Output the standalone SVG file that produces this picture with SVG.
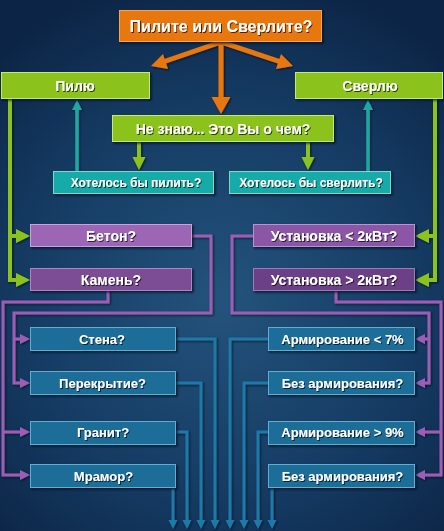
<svg xmlns="http://www.w3.org/2000/svg" width="444" height="531" viewBox="0 0 444 531">
<defs>
<radialGradient id="bg" cx="222" cy="300" r="330" gradientUnits="userSpaceOnUse">
<stop offset="0" stop-color="#23537c"/>
<stop offset="0.6" stop-color="#153b63"/>
<stop offset="1" stop-color="#0c2546"/>
</radialGradient>
<filter id="bs" x="-10%" y="-30%" width="120%" height="170%">
<feDropShadow dx="1.5" dy="1.5" stdDeviation="1" flood-color="#050f1f" flood-opacity="0.85"/>
</filter>
<filter id="ts" x="-5%" y="-30%" width="110%" height="160%">
<feDropShadow dx="1" dy="1" stdDeviation="0.6" flood-color="#000" flood-opacity="0.7"/>
</filter>
<filter id="ls" filterUnits="userSpaceOnUse" x="0" y="0" width="444" height="531">
<feDropShadow dx="1" dy="1" stdDeviation="0.8" flood-color="#040c1a" flood-opacity="0.8"/>
</filter>
</defs>
<style>
text{font-family:"Liberation Sans",Arial,sans-serif;font-weight:bold;fill:#fff;text-anchor:middle;filter:url(#ts)}
.t16{font-size:16px}.t14{font-size:14px}.t13{font-size:13px}.t12{font-size:12px}
rect{filter:url(#bs);stroke-width:1}
.or{fill:#e8770d;stroke:#f5a552}
.gr{fill:#8cc21b;stroke:#c6ea74}
.te{fill:#19aba9;stroke:#7ad9d6}
.p1{fill:#9c66b5;stroke:#c9a2dc}
.p2{fill:#7c4e95;stroke:#ad86c4}
.p3{fill:#8a57a5;stroke:#b993cf}
.p4{fill:#6c4186;stroke:#9e7ab6}
.bl{fill:#1a6e99;stroke:#62aed3}
.c{filter:url(#ls)}
.c path{fill:none;stroke-linejoin:miter;stroke-linecap:butt}
.lo{stroke:#e8770d;stroke-width:5}.fo{fill:#e8770d}
.lg{stroke:#8cc21b;stroke-width:4}.fg{fill:#8cc21b}
.lt{stroke:#1aa9a6;stroke-width:3.5}.ft{fill:#1aa9a6}
.lp{stroke:#9b5db5;stroke-width:3}.fp{fill:#9b5db5}
.lb{stroke:#1e79aa;stroke-width:3}.fb{fill:#1e79aa}
</style>
<rect x="0" y="0" width="444" height="531" fill="url(#bg)" style="filter:none;stroke:none"/>

<g id="connectors" class="c">
<!-- orange -->
<path class="lo" d="M221,42 L160,63"/>
<polygon class="fo" points="151,66 163,54 168,69"/>
<path class="lo" d="M221,42 L284,63"/>
<polygon class="fo" points="293,66 281,54 276,69"/>
<path class="lo" d="M221,42 V98"/>
<polygon class="fo" points="211.5,97 230.5,97 221,114"/>
<!-- green -->
<path class="lg" d="M10,99 V280 H18 M10,236 H18"/>
<polygon class="fg" points="30,236 16,229 16,243"/>
<polygon class="fg" points="30,280 16,273 16,287"/>
<path class="lg" d="M435,99 V280 H427 M435,236 H427"/>
<polygon class="fg" points="415,236 429,229 429,243"/>
<polygon class="fg" points="415,280 429,273 429,287"/>
<path class="lg" d="M139,142 V158"/>
<polygon class="fg" points="132.5,157 145.5,157 139,170"/>
<path class="lg" d="M308,142 V158"/>
<polygon class="fg" points="301.5,157 314.5,157 308,170"/>
<!-- teal -->
<path class="lt" d="M77,171 V109"/>
<polygon class="ft" points="77,100 72,110 82,110"/>
<path class="lt" d="M368,171 V109"/>
<polygon class="ft" points="368,100 363,110 373,110"/>
<!-- purple -->
<path class="lp" d="M192,236 H211 V313 H14 V383 H21 M14,339 H21"/>
<polygon class="fp" points="30,339 20,334 20,344"/>
<polygon class="fp" points="30,383 20,378 20,388"/>
<path class="lp" d="M108,291 V302 H3 V475 H21 M3,432 H21"/>
<polygon class="fp" points="30,432 20,427 20,437"/>
<polygon class="fp" points="30,475 20,470 20,480"/>
<path class="lp" d="M253,236 H232 V313 H429 V383 H424 M429,339 H424"/>
<polygon class="fp" points="415,339 425,334 425,344"/>
<polygon class="fp" points="415,383 425,378 425,388"/>
<path class="lp" d="M336,291 V302 H441 V475 H424 M441,432 H424"/>
<polygon class="fp" points="415,432 425,427 425,437"/>
<polygon class="fp" points="415,475 425,470 425,480"/>
<!-- blue -->
<path class="lb" d="M176,339 H215 V521"/>
<polygon class="fb" points="210.5,520 219.5,520 215,529"/>
<path class="lb" d="M176,383 H201 V521"/>
<polygon class="fb" points="196.5,520 205.5,520 201,529"/>
<path class="lb" d="M176,432 H187 V521"/>
<polygon class="fb" points="182.5,520 191.5,520 187,529"/>
<path class="lb" d="M173,487 V521"/>
<polygon class="fb" points="168.5,520 177.5,520 173,529"/>
<path class="lb" d="M268,339 H230 V521"/>
<polygon class="fb" points="225.5,520 234.5,520 230,529"/>
<path class="lb" d="M268,383 H244 V521"/>
<polygon class="fb" points="239.5,520 248.5,520 244,529"/>
<path class="lb" d="M268,432 H258 V521"/>
<polygon class="fb" points="253.5,520 262.5,520 258,529"/>
<path class="lb" d="M272,487 V521"/>
<polygon class="fb" points="267.5,520 276.5,520 272,529"/>
</g>

<g id="n-start"><rect class="or" x="119.5" y="10.5" width="202" height="31"/><text class="t16" x="221" y="32">Пилите или Сверлите?</text></g>
<g id="n-pilyu"><rect class="gr" x="1.5" y="72.5" width="148" height="26"/><text class="t14" x="75" y="90.5">Пилю</text></g>
<g id="n-sverlyu"><rect class="gr" x="295.5" y="72.5" width="147" height="26"/><text class="t14" x="370" y="90.5">Сверлю</text></g>
<g id="n-neznayu"><rect class="gr" x="112.5" y="115.5" width="221" height="26"/><text class="t14" x="223" y="133.5">Не знаю... Это Вы о чем?</text></g>
<g id="n-hot-pil"><rect class="te" x="53.5" y="171.5" width="160" height="22"/><text class="t12" x="136" y="187">Хотелось бы пилить?</text></g>
<g id="n-hot-sver"><rect class="te" x="229.5" y="171.5" width="161" height="22"/><text class="t12" x="311" y="187">Хотелось бы сверлить?</text></g>
<g id="n-beton"><rect class="p1" x="30.5" y="224.5" width="161" height="22"/><text class="t14" x="111" y="240.5">Бетон?</text></g>
<g id="n-kamen"><rect class="p2" x="30.5" y="268.5" width="161" height="22"/><text class="t14" x="111" y="284.5">Камень?</text></g>
<g id="n-ust-lt"><rect class="p3" x="253.5" y="224.5" width="161" height="22"/><text class="t14" x="334" y="240.5">Установка &lt; 2кВт?</text></g>
<g id="n-ust-gt"><rect class="p4" x="253.5" y="268.5" width="161" height="22"/><text class="t14" x="334" y="284.5">Установка &gt; 2кВт?</text></g>
<g id="n-stena"><rect class="bl" x="30.5" y="327.5" width="145" height="23"/><text class="t13" x="102" y="343.5">Стена?</text></g>
<g id="n-perekr"><rect class="bl" x="30.5" y="371.5" width="145" height="23"/><text class="t13" x="102.5" y="387.5">Перекрытие?</text></g>
<g id="n-granit"><rect class="bl" x="30.5" y="421.5" width="145" height="23"/><text class="t13" x="103" y="437">Гранит?</text></g>
<g id="n-mramor"><rect class="bl" x="30.5" y="464.5" width="145" height="23"/><text class="t13" x="103.5" y="480.5">Мрамор?</text></g>
<g id="n-arm7"><rect class="bl" x="268.5" y="327.5" width="146" height="23"/><text class="t13" x="342.5" y="343.5">Армирование &lt; 7%</text></g>
<g id="n-bez1"><rect class="bl" x="268.5" y="371.5" width="146" height="23"/><text class="t13" x="342.5" y="387.5">Без армирования?</text></g>
<g id="n-arm9"><rect class="bl" x="268.5" y="421.5" width="146" height="23"/><text class="t13" x="342.5" y="437">Армирование &gt; 9%</text></g>
<g id="n-bez2"><rect class="bl" x="268.5" y="464.5" width="146" height="23"/><text class="t13" x="342.5" y="480.5">Без армирования?</text></g>
</svg>
